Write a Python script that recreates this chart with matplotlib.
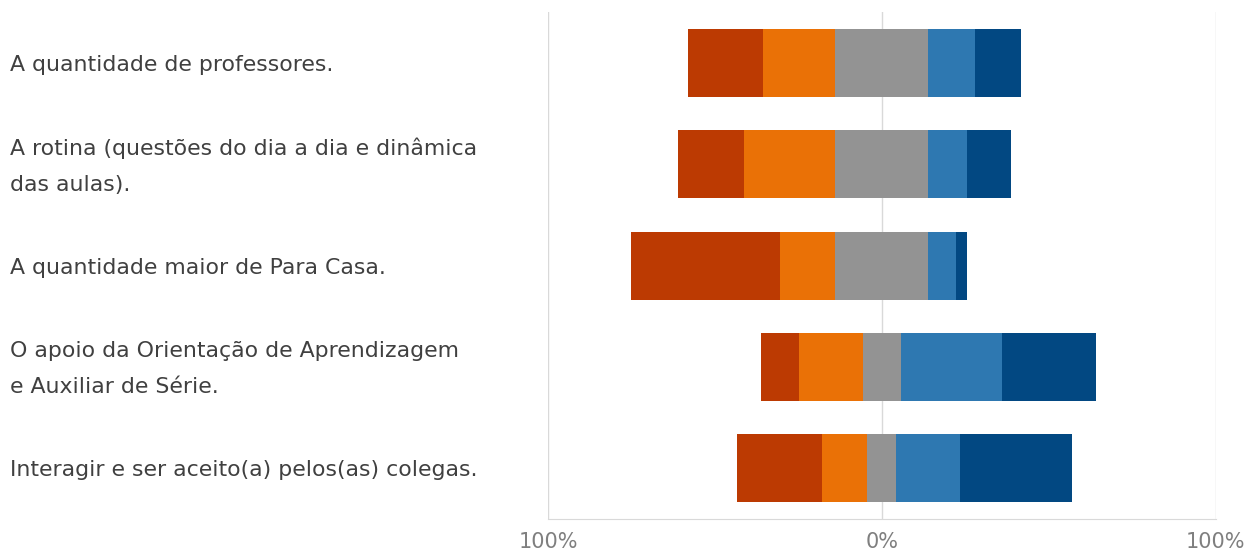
import numpy as np
import matplotlib.pyplot as plt
import matplotlib.transforms as mtransforms
from matplotlib.ticker import FuncFormatter

plt.rcParams['font.family'] = ['DejaVu Sans']

categorias = [
    'A quantidade de professores.',
    'A rotina (questões do dia a dia e dinâmica\ndas aulas).',
    'A quantidade maior de Para Casa.',
    'O apoio da Orientação de Aprendizagem\ne Auxiliar de Série.',
    'Interagir e ser aceito(a) pelos(as) colegas.',
]

# percentages per response level (negative side -> positive side)
nivel1 = [22.4, 19.8, 44.6, 11.4, 25.5]   # dark red
nivel2 = [21.6, 27.4, 16.5, 19.1, 13.4]   # orange
neutro = [27.9, 27.9, 27.9, 11.3, 8.8]    # grey (split around 0)
nivel4 = [14.0, 11.6, 8.3, 30.4, 19.0]    # light blue
nivel5 = [13.9, 13.3, 3.3, 28.1, 33.7]    # dark blue

cores = ['#BC3A02', '#EA7106', '#939393', '#2E78B1', '#024882']

series = [np.array(s) for s in (nivel1, nivel2, neutro, nivel4, nivel5)]
inicio = -(series[0] + series[1] + series[2] / 2)

fig = plt.figure(figsize=(12.57, 5.54), dpi=100)
ax = fig.add_axes([0.436, 0.063, 0.531, 0.915])

y = np.arange(len(categorias))
left = inicio.copy()
for s, c in zip(series, cores):
    ax.barh(y, s, left=left, height=0.67, color=c, edgecolor='none', zorder=3)
    left = left + s

ax.set_xlim(-100, 100)
ax.set_ylim(len(categorias) - 0.5, -0.5)
ax.set_xticks([-100, 0, 100])
ax.xaxis.set_major_formatter(FuncFormatter(lambda v, p: '%d%%' % abs(v)))
ax.grid(axis='x', color='#D9D9D9', linewidth=1, zorder=0)
ax.tick_params(axis='x', length=0, labelsize=15, labelcolor='#7F7F7F', pad=9)
ax.set_yticks([])
for sp in ['top', 'left', 'right']:
    ax.spines[sp].set_visible(False)
ax.spines['bottom'].set_color('#D9D9D9')

trans = mtransforms.blended_transform_factory(fig.transFigure, ax.transData)
for i, cat in enumerate(categorias):
    ax.text(10 / 1257, i + 0.02, cat, transform=trans, fontsize=15.8,
            color='#404040', ha='left', va='center', linespacing=1.95,
            clip_on=False)

fig.savefig('out.png', dpi=100)
